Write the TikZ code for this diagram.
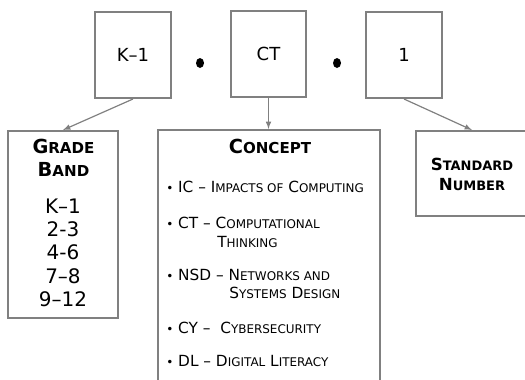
\documentclass[tikz,border=0pt]{standalone}
\usepackage{fontspec}
\setmainfont{DejaVu Sans}
\usepackage{tikz}
\usetikzlibrary{shapes.geometric}
\makeatletter
\newcommand\smcaps[1]{{\fontsize{\fpeval{0.78*\f@size}}{0}\selectfont #1}}
\makeatother
\definecolor{boxgray}{RGB}{128,128,128}

\begin{document}
\begin{tikzpicture}[x=0.75pt,y=0.75pt,yscale=-1,xscale=1,
  box/.style={draw=boxgray,line width=1.5pt,inner sep=0pt},
  conn/.style={draw=boxgray,line width=0.9pt,-latex},
  dot/.style={ellipse,fill=black,inner sep=0pt,minimum width=6pt,minimum height=7.5pt},
  txt/.style={anchor=base,inner sep=0pt},
  item/.style={anchor=base west,inner sep=0pt,font=\fontsize{11.5}{13}\selectfont}]
\clip (0,0) rectangle (525,379);

% Top Box
\node (kone) [box,minimum width=57pt,minimum height=64.5pt] at (133,55) {\fontsize{13.5}{15}\selectfont K–1};
% Top Box
\node (ct) [box,minimum width=56.25pt,minimum height=64.5pt] at (268.5,54) {\fontsize{13.5}{15}\selectfont CT};
% Top Box
\node (one) [box,minimum width=57pt,minimum height=64.5pt] at (404,55) {\fontsize{13.5}{15}\selectfont 1};
% Dot
\node (dota) [dot] at (200,63) {};
% Dot
\node (dotb) [dot] at (337,63) {};

% Grade Box
\node (grade) [box,minimum width=82.5pt,minimum height=140.25pt] at (63,224.5) {};
% Concept Box
\node (concept) [box,minimum width=166.5pt,minimum height=198pt] at (269,262) {};
% Standard Box
\node (std) [box,minimum width=84pt,minimum height=63.75pt] at (472,173.5) {};

% Text Node
\node (gradea) [txt,font=\bfseries\fontsize{14.5}{16}\selectfont] at (63.5,153) {G\smcaps{RADE}};
\node (gradeb) [txt,font=\bfseries\fontsize{14.5}{16}\selectfont] at (63.5,176) {B\smcaps{AND}};
% Text Node
\node (gk) [txt,font=\fontsize{15}{17}\selectfont] at (63,213) {K–1};
\node (g2) [txt,font=\fontsize{15}{17}\selectfont] at (63,236) {2-3};
\node (g4) [txt,font=\fontsize{15}{17}\selectfont] at (63,259) {4-6};
\node (g7) [txt,font=\fontsize{15}{17}\selectfont] at (63,283) {7–8};
\node (g9) [txt,font=\fontsize{15}{17}\selectfont] at (63,306) {9–12};

% Text Node
\node (ctitle) [txt,font=\bfseries\fontsize{14.5}{16}\selectfont] at (270,153) {C\smcaps{ONCEPT}};
% Text Node
\node (ic) [item] at (166,192) {{\small\textbullet} IC – I\smcaps{MPACTS OF} C\smcaps{OMPUTING}};
\node (cta) [item] at (166,228) {{\small\textbullet} CT – C\smcaps{OMPUTATIONAL}};
\node (ctb) [item] at (217,247) {T\smcaps{HINKING}};
\node (nsda) [item] at (166,280) {{\small\textbullet} NSD – N\smcaps{ETWORKS AND}};
\node (nsdb) [item] at (229,298) {S\smcaps{YSTEMS} D\smcaps{ESIGN}};
\node (cy) [item] at (166,333) {{\small\textbullet} CY –\ \ C\smcaps{YBERSECURITY}};
\node (dl) [item] at (166,366) {{\small\textbullet} DL – D\smcaps{IGITAL} L\smcaps{ITERACY}};

% Text Node
\node (stda) [txt,font=\bfseries\fontsize{12.5}{14}\selectfont] at (472,170) {S\smcaps{TANDARD}};
\node (stdb) [txt,font=\bfseries\fontsize{12.5}{14}\selectfont] at (472,190) {N\smcaps{UMBER}};

% Connection
\draw [conn] (kone.south) -- (grade.north);
% Connection
\draw [conn] (ct.south) -- (ct.south |- concept.north);
% Connection
\draw [conn] (one.south) -- (std.north);

\end{tikzpicture}
\end{document}
